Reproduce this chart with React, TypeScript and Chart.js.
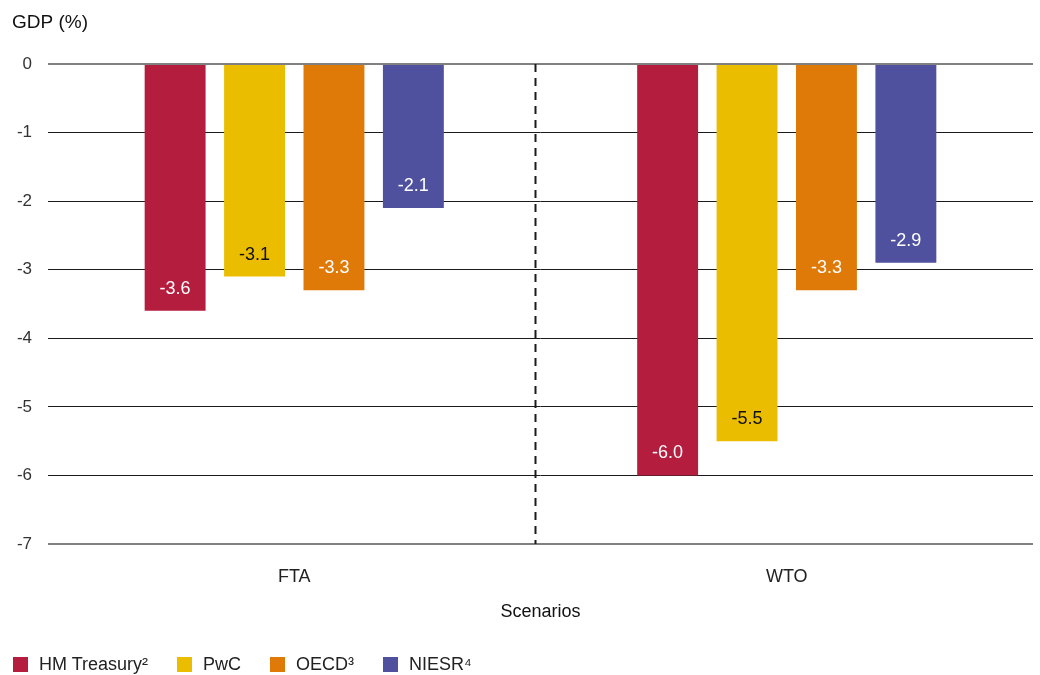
import React, { useEffect, useRef } from "react";
import Chart from "chart.js/auto";

const categories = ["FTA", "WTO"];
const seriesNames = ["HM Treasury²", "PwC", "OECD³", "NIESR⁴"];
const hmTreasury = [-3.6, -6.0];
const pwc = [-3.1, -5.5];
const oecd = [-3.3, -3.3];
const niesr = [-2.1, -2.9];
const seriesColors = ["#B51D3F", "#EBBD00", "#DF7A08", "#4F519F"];
const labelColors = ["#ffffff", "#111111", "#ffffff", "#ffffff"];
const yMin = -7;
const yMax = 0;
const dividerAt = 0.488;
const FONT = '"Liberation Sans", Arial, Helvetica, sans-serif';

export default function App() {
  const ref = useRef<HTMLCanvasElement | null>(null);

  useEffect(() => {
    if (!ref.current) return;
    Chart.defaults.font.family = FONT;
    const values = [hmTreasury, pwc, oecd, niesr];

    const extras = {
      id: "extras",
      afterDraw(chart: any) {
        const ctx = chart.ctx;
        const area = chart.chartArea;
        const xs = chart.scales.x;
        const dx = Math.round(xs.getPixelForValue(dividerAt)) + 0.5;
        ctx.save();
        ctx.strokeStyle = "#1a1a1a";
        ctx.lineWidth = 2;
        ctx.setLineDash([8, 6]);
        ctx.beginPath();
        ctx.moveTo(dx, area.top);
        ctx.lineTo(dx, area.bottom);
        ctx.stroke();
        ctx.restore();
        ctx.save();
        ctx.font = `18px ${FONT}`;
        ctx.textAlign = "center";
        ctx.textBaseline = "middle";
        chart.data.datasets.forEach((ds: any, i: number) => {
          const meta = chart.getDatasetMeta(i);
          meta.data.forEach((el: any, j: number) => {
            ctx.fillStyle = labelColors[i];
            ctx.fillText(Number(ds.data[j]).toFixed(1), el.x, el.y - 22);
          });
        });
        ctx.restore();
        ctx.save();
        ctx.font = `19px ${FONT}`;
        ctx.fillStyle = "#111";
        ctx.textAlign = "left";
        ctx.textBaseline = "middle";
        ctx.fillText("GDP (%)", 12, 23);
        ctx.restore();
      },
    };

    const chart = new Chart(ref.current, {
      type: "bar",
      data: {
        labels: categories,
        datasets: seriesNames.map((n, i) => ({
          label: n,
          data: values[i],
          backgroundColor: seriesColors[i],
          borderWidth: 0,
          categoryPercentage: 0.645,
          barPercentage: 0.767,
        })),
      },
      options: {
        responsive: false,
        animation: false,
        layout: { padding: { top: 64, right: 7, left: 0, bottom: 52 } },
        plugins: {
          legend: { display: false },
          tooltip: { enabled: false },
          title: { display: false },
        },
        scales: {
          x: {
            afterFit: (s: any) => {
              s.height = 79;
            },
            grid: { display: false },
            border: { display: false },
            ticks: { font: { size: 18 }, color: "#222", padding: 14 },
            title: {
              display: true,
              text: "Scenarios",
              font: { size: 18 },
              color: "#111",
              padding: { top: 16, bottom: 0 },
            },
          },
          y: {
            min: yMin,
            max: yMax,
            afterFit: (s: any) => {
              s.width = 48;
            },
            border: { display: false },
            grid: {
              drawTicks: false,
              color: (c: any) =>
                c.tick && (c.tick.value === 0 || c.tick.value === -7) ? "#808080" : "#1a1a1a",
              lineWidth: (c: any) =>
                c.tick && (c.tick.value === 0 || c.tick.value === -7) ? 2 : 1,
            },
            ticks: { stepSize: 1, font: { size: 17 }, color: "#333", padding: 16 },
          },
        },
      },
      plugins: [extras],
    });
    return () => chart.destroy();
  }, []);

  return (
    <div
      style={{
        position: "fixed",
        left: 0,
        top: 0,
        width: 1040,
        height: 675,
        overflow: "hidden",
        background: "#fff",
      }}
    >
      <canvas ref={ref} width={1040} height={675} style={{ display: "block" }} />
      <div
        style={{
          position: "absolute",
          left: 13,
          top: 655,
          height: 19,
          display: "flex",
          alignItems: "center",
          fontFamily: FONT,
          fontSize: 18,
          lineHeight: "19px",
          color: "#222",
          whiteSpace: "nowrap",
        }}
      >
        {seriesNames.map((n, i) => (
          <div key={n} style={{ display: "flex", alignItems: "center", marginRight: 29 }}>
            <span
              style={{
                display: "inline-block",
                width: 15,
                height: 15,
                background: seriesColors[i],
                marginRight: 11,
              }}
            />
            <span>{n}</span>
          </div>
        ))}
      </div>
    </div>
  );
}
